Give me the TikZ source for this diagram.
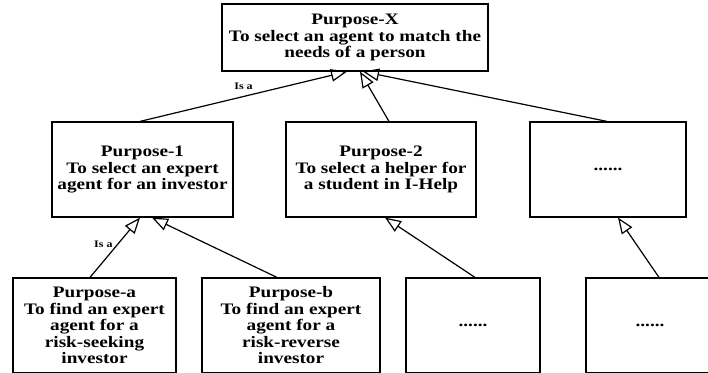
\documentclass[tikz,border=0pt]{standalone}
\usepackage{fontspec}
\setmainfont{Liberation Serif}
\newfontfamily\boxfont{Liberation Serif}[FakeStretch=1.2]
\usetikzlibrary{arrows.meta}

\begin{document}
\begin{tikzpicture}
  [
    x=1pt, y=-1pt,
    box/.style =
      {draw, rectangle, align=center, line width=1.2pt, inner sep=0pt,
       font=\boxfont\bfseries\fontsize{16}{16.5}\selectfont},
    isa/.style =
      {line width=1.2pt, -{Triangle[open, length=16pt, width=12.5pt, line width=1.2pt]}},
    tag/.style =
      {font=\boxfont\bfseries\fontsize{10}{12}\selectfont}
  ]

\clip (0,0) rectangle (708,372);

\node[box, minimum width=266, minimum height=67] (px) at (355,37.5)
  {Purpose-X\\To select an agent to match the\\needs of a person};

\node[box, minimum width=181, minimum height=95] (p1) at (142.5,169.5)
  {Purpose-1\\To select an expert\\agent for an investor};
\node[box, minimum width=190, minimum height=95] (p2) at (381,169.5)
  {Purpose-2\\To select a helper for\\a student in I-Help};
\node[box, minimum width=156, minimum height=95] (p3) at (608,169.5) {......};

\node[box, minimum width=163, minimum height=95] (pa) at (94.5,325.5)
  {Purpose-a\\To find an expert\\agent for a\\risk-seeking\\investor};
\node[box, minimum width=178, minimum height=95] (pb) at (291,325.5)
  {Purpose-b\\To find an expert\\agent for a\\risk-reverse\\investor};
\node[box, minimum width=134, minimum height=95] (pc) at (473,325.5) {......};
\node[box, minimum width=128, minimum height=95] (pd) at (650,325.5) {......};

\draw[isa] ([xshift=-2.5]p1.north) -- node[tag, pos=0.5, above=3pt] {Is a} ([xshift=-8]px.south);
\draw[isa] ([xshift=8]p2.north) -- ([xshift=5]px.south);
\draw[isa] ([xshift=-1]p3.north) -- ([xshift=8]px.south);

\draw[isa] ([xshift=-4.5]pa.north) -- node[tag, pos=0.55, left=1pt] {Is a} ([xshift=-2.5]p1.south);
\draw[isa] ([xshift=-14]pb.north) -- ([xshift=9.5]p1.south);
\draw[isa] ([xshift=2]pc.north) -- ([xshift=4]p2.south);
\draw[isa] ([xshift=9]pd.north) -- ([xshift=10]p3.south);
\end{tikzpicture}
\end{document}
